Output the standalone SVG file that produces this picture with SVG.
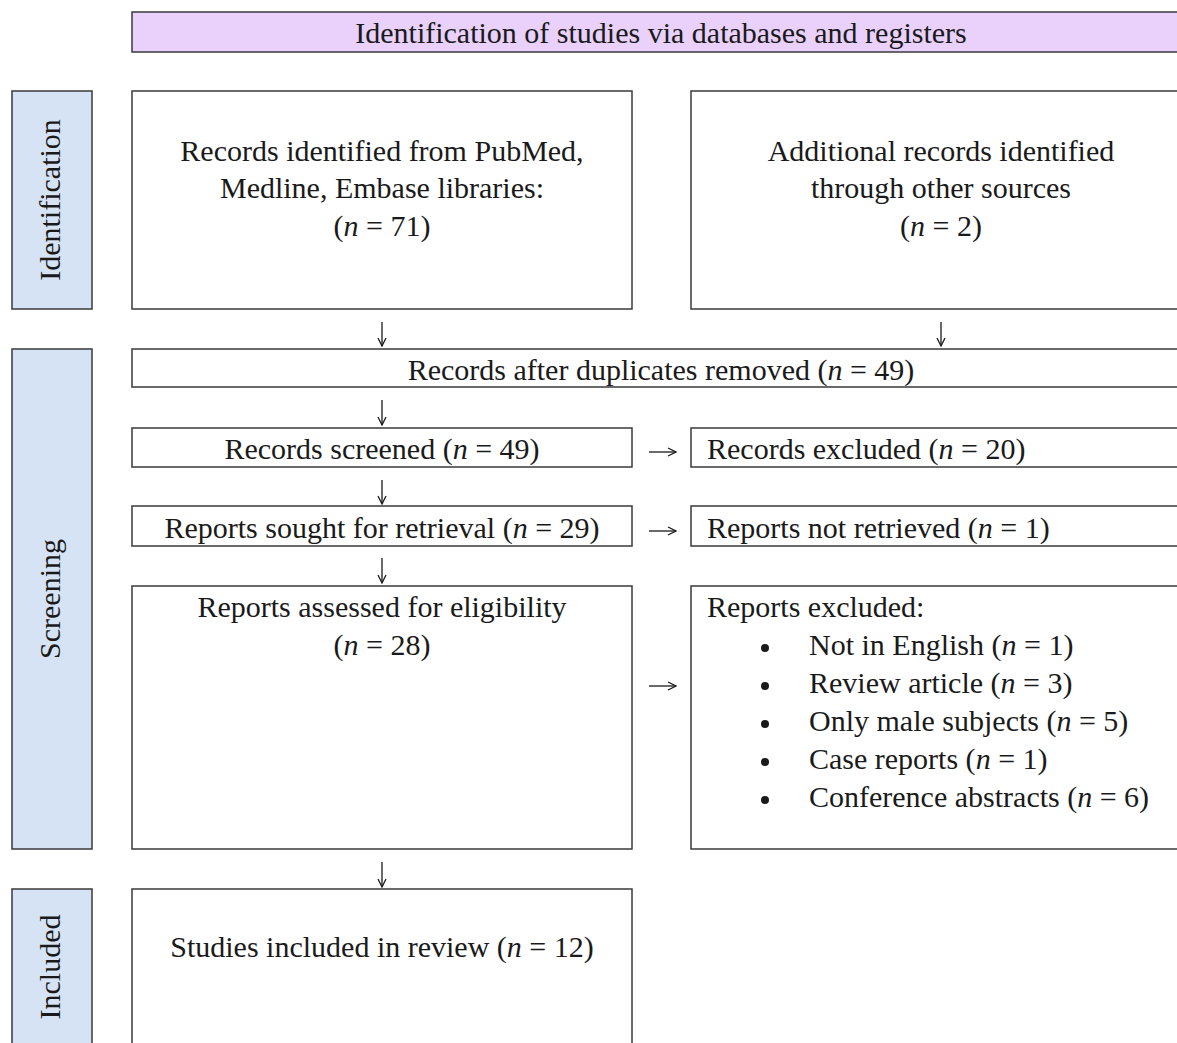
<svg xmlns="http://www.w3.org/2000/svg" width="1177" height="1043" viewBox="0 0 1177 1043">
<defs>
<style>
.box{fill:#fff;stroke:#3a3a3a;stroke-width:1.5}
.hdr{fill:#e9d1fb;stroke:#3a3a3a;stroke-width:1.5}
.side{fill:#d6e3f4;stroke:#3a3a3a;stroke-width:1.5}
text{font-family:"Liberation Serif","DejaVu Serif",serif;font-size:30px;fill:#1a1a1a}
.c{text-anchor:middle}
.i{font-style:italic}
.con{stroke:#1a1a1a;stroke-width:1.3;fill:none}
</style>
<marker id="ah" viewBox="0 0 10 10" refX="9" refY="5" markerWidth="10" markerHeight="10" markerUnits="userSpaceOnUse" orient="auto">
<path d="M1,1 L9,5 L1,9" fill="none" stroke="#1a1a1a" stroke-width="1.3"/>
</marker>
</defs>
<rect width="1177" height="1043" fill="#fff"/>

<g id="header">
<rect class="hdr" x="132" y="12" width="1058" height="40"/>
<text class="c" x="661" y="43">Identification of studies via databases and registers</text>
</g>

<g id="side-identification">
<rect class="side" x="12" y="91" width="80" height="218"/>
<text class="c" transform="translate(60,200) rotate(-90)">Identification</text>
</g>
<g id="side-screening">
<rect class="side" x="12" y="349" width="80" height="500"/>
<text class="c" transform="translate(60,599) rotate(-90)">Screening</text>
</g>
<g id="side-included">
<rect class="side" x="12" y="889" width="80" height="170"/>
<text class="c" transform="translate(60,967) rotate(-90)">Included</text>
</g>

<g id="records-identified">
<rect class="box" x="132" y="91" width="500" height="218"/>
<text class="c" x="382" y="161">Records identified from PubMed,</text>
<text class="c" x="382" y="198">Medline, Embase libraries:</text>
<text class="c" x="382" y="236">(<tspan class="i">n</tspan> = 71)</text>
</g>

<g id="additional-records">
<rect class="box" x="691" y="91" width="500" height="218"/>
<text class="c" x="941" y="161">Additional records identified</text>
<text class="c" x="941" y="198">through other sources</text>
<text class="c" x="941" y="236">(<tspan class="i">n</tspan> = 2)</text>
</g>

<g id="duplicates-removed">
<rect class="box" x="132" y="349" width="1058" height="38"/>
<text class="c" x="661" y="380">Records after duplicates removed (<tspan class="i">n</tspan> = 49)</text>
</g>

<g id="records-screened">
<rect class="box" x="132" y="428" width="500" height="39"/>
<text class="c" x="382" y="459">Records screened (<tspan class="i">n</tspan> = 49)</text>
</g>
<g id="records-excluded">
<rect class="box" x="691" y="428" width="500" height="39"/>
<text x="707" y="459">Records excluded (<tspan class="i">n</tspan> = 20)</text>
</g>

<g id="reports-sought">
<rect class="box" x="132" y="506" width="500" height="40"/>
<text class="c" x="382" y="538">Reports sought for retrieval (<tspan class="i">n</tspan> = 29)</text>
</g>
<g id="reports-not-retrieved">
<rect class="box" x="691" y="506" width="500" height="40"/>
<text x="707" y="538">Reports not retrieved (<tspan class="i">n</tspan> = 1)</text>
</g>

<g id="reports-assessed">
<rect class="box" x="132" y="586" width="500" height="263"/>
<text class="c" x="382" y="617">Reports assessed for eligibility</text>
<text class="c" x="382" y="655">(<tspan class="i">n</tspan> = 28)</text>
</g>

<g id="reports-excluded">
<rect class="box" x="691" y="586" width="500" height="263"/>
<text x="707" y="617">Reports excluded:</text>
<g>
<circle cx="765" cy="648" r="4" fill="#1a1a1a"/>
<circle cx="765" cy="686" r="4" fill="#1a1a1a"/>
<circle cx="765" cy="724" r="4" fill="#1a1a1a"/>
<circle cx="765" cy="762" r="4" fill="#1a1a1a"/>
<circle cx="765" cy="800" r="4" fill="#1a1a1a"/>
</g>
<text x="809" y="655">Not in English (<tspan class="i">n</tspan> = 1)</text>
<text x="809" y="693">Review article (<tspan class="i">n</tspan> = 3)</text>
<text x="809" y="731">Only male subjects (<tspan class="i">n</tspan> = 5)</text>
<text x="809" y="769">Case reports (<tspan class="i">n</tspan> = 1)</text>
<text x="809" y="807">Conference abstracts (<tspan class="i">n</tspan> = 6)</text>
</g>

<g id="studies-included">
<rect class="box" x="132" y="889" width="500" height="170"/>
<text class="c" x="382" y="957">Studies included in review (<tspan class="i">n</tspan> = 12)</text>
</g>

<g id="connectors">
<line class="con" x1="382" y1="322" x2="382" y2="346" marker-end="url(#ah)"/>
<line class="con" x1="941" y1="322" x2="941" y2="346" marker-end="url(#ah)"/>
<line class="con" x1="382" y1="400" x2="382" y2="425" marker-end="url(#ah)"/>
<line class="con" x1="382" y1="480" x2="382" y2="504" marker-end="url(#ah)"/>
<line class="con" x1="382" y1="558" x2="382" y2="583" marker-end="url(#ah)"/>
<line class="con" x1="382" y1="862" x2="382" y2="887" marker-end="url(#ah)"/>
<line class="con" x1="649" y1="452" x2="676" y2="452" marker-end="url(#ah)"/>
<line class="con" x1="649" y1="531" x2="676" y2="531" marker-end="url(#ah)"/>
<line class="con" x1="649" y1="686" x2="676" y2="686" marker-end="url(#ah)"/>
</g>
</svg>
